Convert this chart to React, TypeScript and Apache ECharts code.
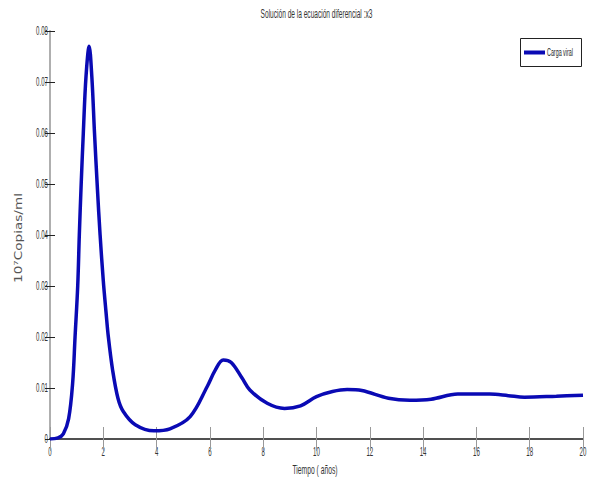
import React, { useEffect, useRef } from "react";
import * as echarts from "echarts";

const times = [0, 0.3, 0.5, 0.7, 0.85, 0.94, 1.04, 1.1, 1.17, 1.25, 1.35, 1.47, 1.57, 1.67, 1.78, 1.88, 2.0, 2.1, 2.19, 2.35, 2.55, 2.75, 3.2, 3.9, 4.5, 5.26, 5.9, 6.2, 6.5, 6.8, 7.2, 7.5, 8.15, 8.8, 9.4, 10.0, 10.6, 11.15, 11.7, 12.7, 13.5, 14.3, 15.3, 16.5, 17.2, 17.8, 19.0, 20];
const cargaViral = [0, 0.0002, 0.001, 0.004, 0.011, 0.02, 0.03, 0.04, 0.05, 0.06, 0.071, 0.077, 0.071, 0.06, 0.049, 0.04, 0.031, 0.025, 0.02, 0.0135, 0.008, 0.0054, 0.0028, 0.0016, 0.002, 0.0044, 0.0103, 0.0135, 0.0155, 0.015, 0.012, 0.0096, 0.007, 0.006, 0.0065, 0.0083, 0.0093, 0.0097, 0.0095, 0.008, 0.0076, 0.0078, 0.0088, 0.0088, 0.0085, 0.0082, 0.0084, 0.0086];
const xTicks = [0, 2, 4, 6, 8, 10, 12, 14, 16, 18, 20];
const yTicks = [0, 0.01, 0.02, 0.03, 0.04, 0.05, 0.06, 0.07, 0.08];
const yTickLabels = ["0", "0.01", "0.02", "0.03", "0.04", "0.05", "0.06", "0.07", "0.08"];
const titleText = "Solución de la ecuación diferencial :x3";
const xName = "Tiempo ( años)";
const yName = "10⁷Copias/ml";
const seriesName = "Carga viral";

const LS = "'Liberation Sans', Arial, sans-serif";
const LINE = "#0a0ab4";

function measure(text: string, size: number, family: string): number {
  const c = document.createElement("canvas").getContext("2d");
  if (!c) return text.length * size * 0.55;
  c.font = `${size}px ${family}`;
  return c.measureText(text).width;
}

export default function App() {
  const ref = useRef<HTMLDivElement>(null);
  useEffect(() => {
    if (!ref.current) return;
    const chart = echarts.init(ref.current, undefined, { renderer: "svg" });
    const data = times.map((t, i) => [t, cargaViral[i]]);
    chart.setOption({
      animation: false,
      backgroundColor: "#fff",
      grid: { left: 50, right: 6, top: 31, bottom: 48, containLabel: false, outerBoundsMode: "none" },
      xAxis: [
        {
          type: "value", min: 0, max: 20, interval: 2, position: "bottom",
          axisLine: { show: true, lineStyle: { color: "#111", width: 2 } },
          axisTick: { show: true, inside: true, length: 12, lineStyle: { color: "#999", width: 1 } },
          axisLabel: { show: false },
          splitLine: { show: false },
        },
        {
          type: "value", min: 0, max: 20, interval: 2, position: "top",
          axisLine: { show: true, lineStyle: { color: "#666", width: 1.5 } },
          axisTick: { show: true, inside: true, length: 12, lineStyle: { color: "#999", width: 1 } },
          axisLabel: { show: false },
          splitLine: { show: false },
        },
      ],
      yAxis: [
        {
          type: "value", min: 0, max: 0.08, interval: 0.01, position: "left",
          axisLine: { show: true, lineStyle: { color: "#aaa", width: 1.5 } },
          axisTick: { show: true, inside: true, length: 5, lineStyle: { color: "#222", width: 1 } },
          axisLabel: { show: false },
          splitLine: { show: false },
        },
        {
          type: "value", min: 0, max: 0.08, interval: 0.01, position: "right",
          axisLine: { show: true, lineStyle: { color: "#aaa", width: 1.5 } },
          axisTick: { show: true, inside: true, length: 5, lineStyle: { color: "#222", width: 1 } },
          axisLabel: { show: false },
          splitLine: { show: false },
        },
      ],
      series: [
        {
          name: seriesName, type: "line", xAxisIndex: 0, yAxisIndex: 0, data,
          smooth: 0.35, showSymbol: false,
          lineStyle: { color: LINE, width: 3.5 }, itemStyle: { color: LINE },
        },
      ],
    });

    const px = (v: number) => chart.convertToPixel({ xAxisIndex: 0 }, v) as number;
    const py = (v: number) => chart.convertToPixel({ yAxisIndex: 0 }, v) as number;
    const tickSize = 13;
    const tickScale = 0.47;
    const graphics: any[] = [];
    xTicks.forEach((t) => {
      graphics.push({
        type: "text", x: px(t), y: py(0) + 13, scaleX: tickScale,
        style: { text: String(t), fontSize: tickSize, fontFamily: LS, fill: "#333", textAlign: "center", textVerticalAlign: "middle" },
      });
    });
    yTicks.forEach((v, i) => {
      graphics.push({
        type: "text", x: px(0) - 2, y: py(v), scaleX: tickScale,
        style: { text: yTickLabels[i], fontSize: tickSize, fontFamily: LS, fill: "#333", textAlign: "right", textVerticalAlign: "middle" },
      });
    });
    const plotCenter = (px(0) + px(20)) / 2;
    graphics.push({
      type: "text", x: plotCenter, y: 14, scaleX: 112 / measure(titleText, 12, LS),
      style: { text: titleText, fontSize: 12, fontFamily: LS, fill: "#333", textAlign: "center", textVerticalAlign: "middle" },
    });
    graphics.push({
      type: "text", x: 315, y: 470, scaleX: 45 / measure(xName, 12, LS),
      style: { text: xName, fontSize: 12, fontFamily: LS, fill: "#333", textAlign: "center", textVerticalAlign: "middle" },
    });
    graphics.push({
      type: "text", x: 19, y: 238, rotation: Math.PI / 2, scaleX: 90 / measure(yName, 10, "'DejaVu Sans'"),
      style: { text: yName, fontSize: 10, fontFamily: "'DejaVu Sans', sans-serif", fill: "#555", textAlign: "center", textVerticalAlign: "middle" },
    });
    // legend
    graphics.push({
      type: "rect", shape: { x: 520.5, y: 38.5, width: 61, height: 28 },
      style: { fill: "#fff", stroke: "#222", lineWidth: 1 }, z: 10,
    });
    graphics.push({
      type: "line", shape: { x1: 524, y1: 52.5, x2: 545, y2: 52.5 },
      style: { stroke: LINE, lineWidth: 4 }, z: 11,
    });
    graphics.push({
      type: "text", x: 547, y: 52, scaleX: 26 / measure(seriesName, 11, LS), z: 11,
      style: { text: seriesName, fontSize: 11, fontFamily: LS, fill: "#222", textAlign: "left", textVerticalAlign: "middle" },
    });
    chart.setOption({ graphic: graphics });
    return () => chart.dispose();
  }, []);
  return <div ref={ref} style={{ width: 589, height: 487, position: "absolute", left: 0, top: 0 }} />;
}
